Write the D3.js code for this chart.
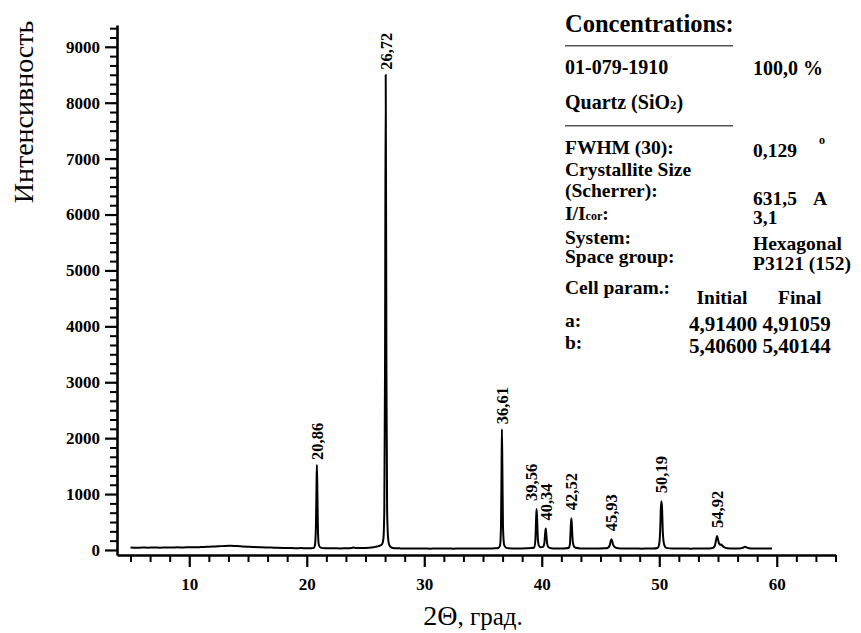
<!DOCTYPE html>
<html>
<head>
<meta charset="utf-8">
<script src="https://cdn.jsdelivr.net/npm/d3@7"></script>
<style>
body { margin: 0; background: #fff; }
svg { display: block; font-family: "Liberation Serif", "Times New Roman", serif; }
.axis text { font-family: "Liberation Serif", "Times New Roman", serif; font-weight: bold; font-size: 17px; fill: #000; }
.axis path, .axis line { stroke: #000; }
.info { font-weight: bold; font-size: 19.5px; fill: #000; }
</style>
</head>
<body>
<svg id="chart" width="861" height="633"></svg>
<script>
// tick labels
const xTicks = [10, 20, 30, 40, 50, 60]
const yTicks = [0, 1000, 2000, 3000, 4000, 5000, 6000, 7000, 8000, 9000]

// diffractogram: [2theta, counts]
const pattern = [
    [5.0, 42], [5.5, 38], [6.0, 44], [6.5, 40], [7.0, 45], [7.5, 41], [8.0, 46], [8.5, 42], [9.0, 47], [9.5, 44],
    [10.0, 49], [10.5, 47], [11.0, 53], [11.5, 57], [12.0, 62], [12.5, 66], [13.0, 72], [13.5, 74], [14.0, 70],
    [14.5, 64], [15.0, 58], [15.5, 52], [16.0, 48], [16.5, 44], [17.0, 42], [17.5, 38], [18.0, 36], [18.5, 35],
    [19.0, 32], [19.5, 33], [20.0, 30], [20.4, 31], [20.6, 38], [20.7, 90], [20.78, 420], [20.83, 1150],
    [20.86, 1520], [20.9, 1100], [20.95, 380], [21.02, 100], [21.15, 45], [21.4, 33], [21.8, 30], [22.3, 32],
    [22.8, 28], [23.3, 31], [23.8, 36], [24.0, 44], [24.2, 33], [24.8, 33], [25.3, 40], [25.7, 50], [26.0, 62],
    [26.2, 75], [26.4, 100], [26.52, 200], [26.6, 700], [26.66, 3200], [26.72, 8500], [26.78, 3200], [26.84, 700],
    [26.92, 220], [27.02, 90], [27.2, 45], [27.5, 32], [28.0, 28], [28.5, 26], [29.0, 28], [29.5, 25], [30.0, 27],
    [30.5, 24], [31.0, 26], [31.5, 25], [32.0, 27], [32.5, 24], [33.0, 26], [33.5, 25], [34.0, 27], [34.5, 26],
    [35.0, 28], [35.5, 27], [36.0, 30], [36.3, 36], [36.45, 80], [36.53, 420], [36.58, 1500], [36.61, 2160],
    [36.65, 1450], [36.7, 420], [36.8, 90], [36.95, 42], [37.2, 30], [37.7, 27], [38.2, 28], [38.7, 30], [39.1, 34],
    [39.35, 45], [39.46, 180], [39.52, 560], [39.56, 735], [39.61, 540], [39.67, 200], [39.76, 75], [39.9, 50],
    [40.1, 55], [40.22, 120], [40.29, 300], [40.34, 382], [40.39, 280], [40.46, 110], [40.58, 48], [40.8, 32],
    [41.2, 28], [41.7, 27], [42.1, 30], [42.3, 40], [42.4, 110], [42.47, 420], [42.52, 568], [42.57, 410],
    [42.64, 150], [42.75, 60], [42.9, 38], [43.3, 28], [43.8, 26], [44.3, 27], [44.8, 26], [45.3, 29], [45.6, 36],
    [45.78, 80], [45.87, 160], [45.93, 191], [45.99, 160], [46.08, 90], [46.25, 45], [46.5, 30], [47.0, 26],
    [47.5, 25], [48.0, 27], [48.5, 24], [49.0, 27], [49.5, 26], [49.85, 35], [49.98, 90], [50.08, 350],
    [50.14, 760], [50.19, 872], [50.24, 740], [50.3, 340], [50.4, 110], [50.52, 50], [50.7, 33], [51.2, 27],
    [51.7, 25], [52.2, 26], [52.7, 24], [53.2, 27], [53.7, 25], [54.2, 28], [54.55, 35], [54.72, 70], [54.83, 170],
    [54.92, 250], [55.0, 190], [55.08, 120], [55.18, 95], [55.28, 100], [55.38, 75], [55.55, 45], [55.8, 32],
    [56.3, 27], [56.8, 28], [57.1, 38], [57.3, 58], [57.5, 40], [57.8, 28], [58.3, 26], [58.8, 27], [59.2, 25],
    [59.6, 26]
]

// labelled reflections
const peaks = [20.86, 26.72, 36.61, 39.56, 40.34, 42.52, 45.93, 50.19, 54.92]

// text block on the right
const concTitle = "Concentrations:"
const phaseCode = "01-079-1910"
const phaseShare = "100,0 %"
const phaseName = ["Quartz (SiO", "2", ")"]
const paramNames = ["FWHM (30):", "Crystallite Size", "(Scherrer):", "I/I", "System:", "Space group:"]
const paramValues = ["0,129", "", "631,5", "3,1", "Hexagonal", "P3121 (152)"]
const cellHeader = ["Cell param.:", "Initial", "Final"]
const cellRows = [["a:", "4,91400", "4,91059"], ["b:", "5,40600", "5,40144"]]

const svg = d3.select("#chart")
const x = d3.scaleLinear().domain([3.85, 65]).range([117, 835.5])
const y = d3.scaleLinear().domain([-90, 9390]).range([555, 25])

// minor ticks: five between majors
const xMinor = d3.range(0, 37).map(i => 5 + i * 10 / 6).filter(v => Math.abs(v / 10 - Math.round(v / 10)) > 0.01)
const yMinor = d3.range(1, 57).map(i => i * 1000 / 6).filter(v => Math.abs(v / 1000 - Math.round(v / 1000)) > 0.01)

svg.append("g").attr("class", "axis").attr("transform", "translate(0,555)")
    .call(d3.axisBottom(x).tickValues(xMinor).tickSize(7).tickSizeOuter(0).tickFormat(""))
    .call(g => g.selectAll("line").attr("stroke-width", 2))
    .call(g => g.select(".domain").remove())
svg.append("g").attr("class", "axis").attr("transform", "translate(0,555)")
    .call(d3.axisBottom(x).tickValues(xTicks).tickSize(12).tickPadding(11).tickSizeOuter(0).tickFormat(d3.format("d")))
    .call(g => g.selectAll("line").attr("stroke-width", 2.2))
    .call(g => g.select(".domain").attr("stroke-width", 2.6))

svg.append("g").attr("class", "axis").attr("transform", "translate(117,0)")
    .call(d3.axisLeft(y).tickValues(yMinor).tickSize(7).tickSizeOuter(0).tickFormat(""))
    .call(g => g.selectAll("line").attr("stroke-width", 2))
    .call(g => g.select(".domain").remove())
svg.append("g").attr("class", "axis").attr("transform", "translate(117,0)")
    .call(d3.axisLeft(y).tickValues(yTicks).tickSize(12).tickPadding(5).tickSizeOuter(0).tickFormat(d3.format("d")))
    .call(g => g.selectAll("line").attr("stroke-width", 2.2))
    .call(g => g.select(".domain").attr("stroke-width", 2.6))

// pattern
const line = d3.line().x(d => x(d[0])).y(d => y(d[1])).curve(d3.curveMonotoneX)
svg.append("path").datum(pattern).attr("d", line)
    .attr("fill", "none").attr("stroke", "#000").attr("stroke-width", 2).attr("stroke-linejoin", "round")

// peak labels
const comma = v => d3.format(".2f")(v).replace(".", ",")
peaks.forEach((p, i) => {
    const top = d3.max(pattern.filter(d => Math.abs(d[0] - p) < 0.05), d => d[1])
    const crowded = i < peaks.length - 1 && peaks[i + 1] - p < 1
    const px = x(p) + (crowded ? -6 : 0)
    const py = y(top) - (top > 1400 ? 5 : 8)
    svg.append("text")
        .attr("transform", `translate(${px},${py}) rotate(-90)`)
        .attr("dy", "0.36em")
        .attr("font-weight", "bold").attr("font-size", 16.5)
        .text(comma(p))
})

// axis titles
svg.append("text").attr("transform", "translate(33,112) rotate(-90)")
    .attr("text-anchor", "middle").attr("font-size", 28).text("Интенсивность")
const xt = svg.append("text").attr("x", 473).attr("y", 625).attr("text-anchor", "middle").attr("font-size", 25)
xt.append("tspan").attr("font-size", 28).text("2Θ")
xt.append("tspan").text(", град.")

// info block
const info = svg.append("g").attr("class", "info")
const put = (tx, px, py, size) => info.append("text").attr("x", px).attr("y", py).attr("font-size", size || null).text(tx)

put(concTitle, 565, 32, 24.5)
info.append("line").attr("x1", 565).attr("x2", 733).attr("y1", 45.7).attr("y2", 45.7).attr("stroke", "#555").attr("stroke-width", 1.6)
put(phaseCode, 565, 74, 20)
put(phaseShare, 753, 75, 20)
const qn = put(phaseName[0], 565, 109, 20)
qn.append("tspan").attr("font-size", 13).text(phaseName[1])
qn.append("tspan").text(phaseName[2])
info.append("line").attr("x1", 565).attr("x2", 733).attr("y1", 125.7).attr("y2", 125.7).attr("stroke", "#555").attr("stroke-width", 1.6)

const leftY = [154, 176, 197, 219.5, 243.5, 263]
const rightY = [157, null, 204.5, 224, 250, 270]
paramNames.forEach((n, i) => {
    const t = put(n, 565, leftY[i])
    if (n === "I/I") {
        t.append("tspan").attr("font-size", 12).text("cor")
        t.append("tspan").text(":")
    }
    if (paramValues[i]) put(paramValues[i], 753, rightY[i])
})
put("o", 819, 144, 12)
put("A", 813, 204.5)

put(cellHeader[0], 565, 294)
put(cellHeader[1], 696.5, 304)
put(cellHeader[2], 778, 304)
cellRows.forEach((r, i) => {
    put(r[0], 565, 327 + i * 22)
    put(r[1] + " " + r[2], 689, 330.5 + i * 22, 21)
})
</script>
</body>
</html>
